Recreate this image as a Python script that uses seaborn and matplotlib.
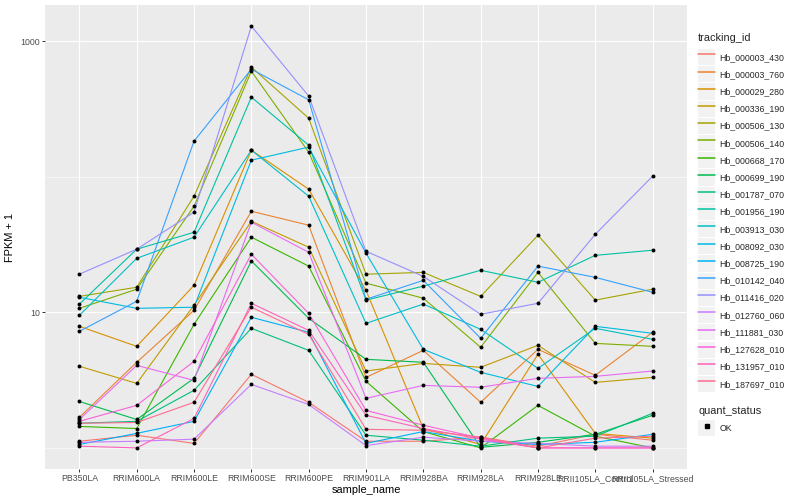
import matplotlib
matplotlib.use("Agg")
import matplotlib.pyplot as plt
from matplotlib.lines import Line2D
from matplotlib.patches import Rectangle
from matplotlib.legend_handler import HandlerLine2D
from matplotlib.ticker import FixedLocator, NullFormatter
import numpy as np
import pandas as pd
import seaborn as sns

# ---------------- data (FPKM + 1) ----------------
samples = ["PB350LA", "RRIM600LA", "RRIM600LE", "RRIM600SE", "RRIM600PE",
           "RRIM901LA", "RRIM928BA", "RRIM928LA", "RRIM928LE",
           "RRII105LA_Control", "RRII105LA_Stressed"]

tracking_ids = ["Hb_000003_430", "Hb_000003_760", "Hb_000029_280", "Hb_000336_190",
                "Hb_000506_130", "Hb_000506_140", "Hb_000668_170", "Hb_000699_190",
                "Hb_001787_070", "Hb_001956_190", "Hb_003913_030", "Hb_008092_030",
                "Hb_008725_190", "Hb_010142_040", "Hb_011416_020", "Hb_012760_060",
                "Hb_111881_030", "Hb_127628_010", "Hb_131957_010", "Hb_187697_010"]

hb_000003_430 = [1.12, 1.24, 1.08, 3.49, 2.17, 1.12, 1.12, 1.20, 1.03, 1.26, 1.14]
hb_000003_760 = [1.68, 4.28, 10.35, 55.6, 43.9, 3.31, 5.24, 2.17, 5.33, 3.43, 7.12]
hb_000029_280 = [7.88, 5.61, 15.8, 156.9, 80.9, 14.5, 1.39, 1.06, 4.90, 1.28, 1.18]
hb_000336_190 = [4.00, 2.99, 11.3, 46.9, 30.2, 3.69, 4.20, 3.93, 5.71, 3.04, 3.31]
hb_000506_130 = [13.1, 15.3, 71.8, 643.0, 270.0, 19.1, 19.7, 13.1, 37.0, 12.3, 14.8]
hb_000506_140 = [10.7, 14.8, 60.6, 600.0, 151.6, 16.4, 12.7, 5.52, 19.7, 5.90, 5.61]
hb_000668_170 = [1.44, 1.39, 8.15, 35.8, 21.9, 3.10, 1.32, 1.00, 2.06, 1.22, 1.00]
hb_000699_190 = [2.20, 1.62, 3.26, 23.9, 9.03, 4.50, 4.28, 1.01, 1.10, 1.26, 1.74]
hb_001787_070 = [1.52, 1.57, 2.66, 7.62, 5.24, 1.24, 1.14, 1.03, 1.18, 1.22, 1.80]
hb_001956_190 = [11.5, 29.2, 38.9, 386.0, 170.8, 12.3, 15.6, 20.4, 16.65, 26.3, 28.7]
hb_003913_030 = [9.50, 25.0, 35.8, 156.9, 71.8, 8.29, 11.5, 7.49, 3.86, 7.62, 6.32]
hb_008092_030 = [12.9, 10.7, 10.9, 132.4, 165.1, 27.3, 5.33, 3.61, 2.84, 7.88, 7.00]
hb_008725_190 = [1.06, 1.28, 1.57, 9.19, 7.12, 1.08, 1.32, 1.12, 1.06, 1.10, 1.26]
hb_010142_040 = [7.24, 12.06, 182.8, 621.0, 369.0, 12.47, 17.2, 6.43, 21.9, 18.1, 14.05]
hb_011416_020 = [19.1, 29.2, 54.7, 1290.0, 393.0, 28.2, 18.4, 9.67, 11.65, 37.6, 100.9]
hb_012760_060 = [1.10, 1.12, 1.16, 2.94, 2.09, 1.04, 1.20, 1.12, 1.08, 1.03, 1.03]
hb_111881_030 = [1.62, 4.06, 3.15, 46.2, 27.7, 2.32, 2.89, 2.80, 3.26, 3.37, 3.69]
hb_127628_010 = [1.57, 2.06, 4.35, 26.8, 9.83, 1.89, 1.47, 1.18, 1.00, 1.00, 1.00]
hb_131957_010 = [1.03, 1.00, 1.65, 11.65, 7.36, 1.74, 1.39, 1.16, 1.00, 1.00, 1.00]
hb_187697_010 = [1.52, 1.54, 2.17, 10.9, 6.88, 1.37, 1.35, 1.20, 1.00, 1.18, 1.22]

series = [hb_000003_430, hb_000003_760, hb_000029_280, hb_000336_190, hb_000506_130,
          hb_000506_140, hb_000668_170, hb_000699_190, hb_001787_070, hb_001956_190,
          hb_003913_030, hb_008092_030, hb_008725_190, hb_010142_040, hb_011416_020,
          hb_012760_060, hb_111881_030, hb_127628_010, hb_131957_010, hb_187697_010]

palette = ["#F8766D", "#EA8331", "#D89000", "#C09B00", "#A3A500", "#7CAE00", "#39B600",
           "#00BB4E", "#00BF7D", "#00C1A3", "#00BFC4", "#00BAE0", "#00B0F6", "#35A2FF",
           "#9590FF", "#C77CFF", "#E76BF3", "#FA62DB", "#FF62BC", "#FF6C91"]

rows = []
for tid, vals in zip(tracking_ids, series):
    for s, v in zip(samples, vals):
        rows.append({"tracking_id": tid, "sample_name": s, "fpkm1": v, "quant_status": "OK"})
df = pd.DataFrame(rows)
df["sample_name"] = pd.Categorical(df["sample_name"], categories=samples, ordered=True)
df["xpos"] = df["sample_name"].cat.codes

# ---------------- style ----------------
sns.set_theme(style="darkgrid", rc={
    "axes.facecolor": "#EBEBEB",
    "figure.facecolor": "white",
    "grid.color": "white",
    "axes.edgecolor": "none",
})
plt.rcParams["font.family"] = ["Liberation Sans", "DejaVu Sans"]

W, H = 800, 500
fig = plt.figure(figsize=(8, 5), dpi=100)
ax = fig.add_axes([45 / W, 1 - 469 / H, (687 - 45) / W, (469 - 5) / H])

sns.lineplot(data=df, x="xpos", y="fpkm1", hue="tracking_id", hue_order=tracking_ids,
             palette=palette, estimator=None, sort=False, linewidth=0.8, ax=ax,
             legend=False, zorder=2)
sns.scatterplot(data=df, x="xpos", y="fpkm1", color="black", s=8, linewidth=0,
                ax=ax, legend=False, zorder=3)

ax.set_yscale("log")
lo = np.log10(df["fpkm1"].min())
hi = np.log10(df["fpkm1"].max())
pad = 0.05 * (hi - lo)
ax.set_ylim(10 ** (lo - pad), 10 ** (hi + pad))
ax.set_xlim(-0.6, len(samples) - 1 + 0.6)

ax.yaxis.set_major_locator(FixedLocator([10, 1000]))
ax.set_yticklabels(["10", "1000"])
ax.yaxis.set_minor_locator(FixedLocator([1, 100]))
ax.yaxis.set_minor_formatter(NullFormatter())
ax.set_xticks(range(len(samples)))
ax.set_xticklabels(samples)

ax.grid(which="major", axis="both", color="white", linewidth=0.8)
ax.grid(which="minor", axis="y", color="white", linewidth=0.4)
ax.tick_params(which="major", length=2.2, width=0.7, color="#333333",
               labelcolor="#4D4D4D", labelsize=6.35, pad=1.6,
               bottom=True, left=True)
ax.tick_params(which="minor", length=0, left=False)
for sp in ax.spines.values():
    sp.set_visible(False)

ax.set_xlabel("sample_name", fontsize=7.9, color="black", labelpad=1.5)
ax.set_ylabel("FPKM + 1", fontsize=7.9, color="black", labelpad=4)


# ---------------- legends ----------------
class KeyHandler(HandlerLine2D):
    def create_artists(self, legend, orig_handle, xdescent, ydescent, width, height,
                       fontsize, trans):
        rect = Rectangle((-xdescent, -ydescent), width, height, facecolor="#F2F2F2",
                         edgecolor="none", transform=trans)
        arts = super().create_artists(legend, orig_handle, xdescent, ydescent, width,
                                      height, fontsize, trans)
        return [rect] + list(arts)


leg_kw = dict(bbox_transform=fig.transFigure, frameon=False, fontsize=6.35,
              title_fontsize=7.9, alignment="left", handlelength=1.95,
              handleheight=2.44, labelspacing=0.12, handletextpad=0.45,
              borderpad=0.2, handler_map={Line2D: KeyHandler()})

line_handles = [Line2D([0], [0], color=c, linewidth=1.1) for c in palette]
leg1 = fig.legend(line_handles, tracking_ids, title="tracking_id",
                  loc="upper left", bbox_to_anchor=(692 / W, 1 - 27 / H), **leg_kw)
leg1._legend_box.sep = 4.2

pt_handle = Line2D([0], [0], marker="s", color="black", linestyle="none", markersize=2.2)
leg2 = fig.legend([pt_handle], ["OK"], title="quant_status",
                  loc="upper left", bbox_to_anchor=(692 / W, 1 - 400 / H), **leg_kw)
leg2._legend_box.sep = 3.0

fig.savefig("out.png", dpi=100)
